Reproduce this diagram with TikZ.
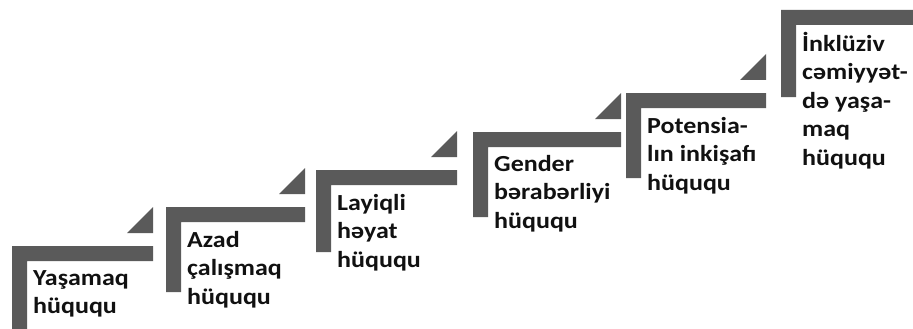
\documentclass[tikz,border=0pt]{standalone}
\usepackage{fontspec}
\setmainfont{Carlito}[FakeStretch=1.13]
\usepackage{tikz}
\usetikzlibrary{positioning}
\definecolor{stairgray}{HTML}{5A5A5A}
\definecolor{ink}{HTML}{111111}

\begin{document}
\begin{tikzpicture}[
  x=1pt, y=-1pt,
  bar/.style={fill=stairgray, draw=none},
  lbl/.style={font=\bfseries\fontsize{23}{28.5}\selectfont, text=ink, align=left, anchor=north west, inner sep=0pt, execute at begin node={\strut}}
]
  \useasboundingbox (0,0) rectangle (913,329);

  % stair brackets
  \fill[bar] (12,246) -- (153,246) -- (153,261) -- (27,261) -- (27,335) -- (12,335) -- cycle;
  \fill[bar] (166,207) -- (305,207) -- (305,222) -- (181,222) -- (181,292) -- (166,292) -- cycle;
  \fill[bar] (316,170) -- (457,170) -- (457,185) -- (331,185) -- (331,252) -- (316,252) -- cycle;
  \fill[bar] (473,132) -- (621,132) -- (621,147) -- (488,147) -- (488,217) -- (473,217) -- cycle;
  \fill[bar] (626,93) -- (766,93) -- (766,108) -- (641,108) -- (641,178) -- (626,178) -- cycle;
  \fill[bar] (781,10) -- (920,10) -- (920,25) -- (796,25) -- (796,97) -- (781,97) -- cycle;

  % corner triangles
  \fill[bar] (127,233) -- (153,233) -- (153,207) -- cycle;
  \fill[bar] (279,194) -- (305,194) -- (305,168) -- cycle;
  \fill[bar] (431,157) -- (457,157) -- (457,131) -- cycle;
  \fill[bar] (595,119) -- (621,119) -- (621,93) -- cycle;
  \fill[bar] (740,80) -- (766,80) -- (766,54) -- cycle;

  % labels (first baseline ~20pt under the node top)
  \node[lbl] (yasamaq)  at (33,270.05)  {Yaşamaq\\hüququ};
  \node[lbl] (azad)     at (187,231.05) {Azad\\çalışmaq\\hüququ};
  \node[lbl] (layiqli)  at (337,194.05) {Layiqli\\həyat\\hüququ};
  \node[lbl] (gender)   at (494,155.05) {Gender\\bərabərliyi\\hüququ};
  \node[lbl] (potensia) at (647,117.05) {Potensia-\\lın inkişafı\\hüququ};
  \node[lbl] (inkluziv) at (802,32.05)  {İnklüziv\\cəmiyyət-\\də yaşa-\\maq\\hüququ};

\end{tikzpicture}
\end{document}
